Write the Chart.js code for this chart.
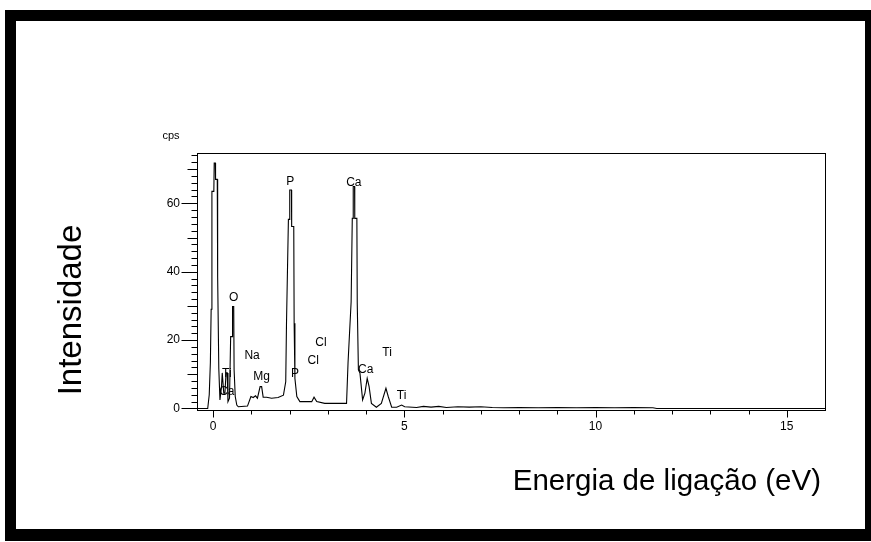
<!DOCTYPE html>
<html><head><meta charset="utf-8">
<script src="https://cdn.jsdelivr.net/npm/chart.js@4.4.0/dist/chart.umd.min.js"></script>
<style>
html,body{margin:0;padding:0;background:#fff;overflow:hidden;}
#frame{position:absolute;left:5px;top:10px;width:866px;height:531px;background:#000;}
#inner{position:absolute;left:16px;top:21px;width:849px;height:508px;background:#fff;}
#wrap{position:absolute;left:0;top:0;width:871px;height:542px;}
</style></head><body>
<div id="frame"></div><div id="inner"></div>
<div id="wrap"><canvas id="c" width="871" height="542"></canvas></div>
<script>
// Spectrum: energy (keV) and intensity (cps)
const energy = [-0.42,-0.14,-0.10,-0.07,-0.05,-0.03,0.02,0.03,0.06,0.065,0.11,0.12,0.15,0.18,
  0.22,0.24,0.28,0.31,0.34,0.37,0.39,0.43,0.46,0.50,0.51,0.54,0.55,0.58,0.62,0.66,
  0.90,0.99,1.05,1.11,1.16,1.23,1.27,1.31,1.40,1.53,1.70,1.84,1.90,1.92,1.97,2.00,2.005,2.05,2.055,2.11,2.12,2.14,2.19,2.27,
  2.58,2.64,2.71,2.92,3.49,3.53,3.61,3.64,3.66,3.665,3.70,3.705,3.76,3.77,3.80,3.84,3.91,3.97,4.03,4.08,4.14,4.27,4.40,4.52,4.58,4.67,4.80,4.93,5.01,5.32,
  5.5,5.7,5.9,6.1,6.4,6.7,7.0,7.3,7.6,8.0,8.5,9.0,9.5,10.0,10.5,11.0,11.5,11.6,16];
const counts = [0,0,4,13.5,29,63.5,63.5,71.8,71.8,67,67,38.5,11.7,2.5,
  6.3,10.4,4.5,4.5,10.4,10.4,2.0,3.0,21,21,29.8,29.8,11.3,3.5,1.0,0.5,
  0.7,3.5,3.2,3.7,3.0,6.4,6.4,3.3,3.3,3.0,3.2,3.9,7.8,24.9,55.3,55.3,63.9,63.9,53.2,53.2,24.9,8.8,3.5,2.0,
  2.0,3.3,2.0,1.5,1.5,13.6,31.2,55.6,55.6,64.9,64.9,55.6,55.6,30.8,11.3,10.4,2.5,4.5,8.8,6.4,1.5,0.35,1.5,5.9,3.5,0.35,0.35,1.0,0.5,0.3,
  0.6,0.4,0.6,0.3,0.5,0.4,0.5,0.3,0.2,0.3,0.2,0.3,0.2,0.3,0.2,0.3,0.2,0,0];
const yTickLabels = [0,20,40,60];
const xTickLabels = [0,5,10,15];
// Element labels on the peaks
const peakNames = ["P","Ca","O","Na","Mg","Cl","Cl","P","Ca","Ti","Ti","Ti","Ca"];
const peakE =     [2.02,3.68,0.54,1.02,1.27,2.82,2.62,2.14,3.99,4.55,4.93,0.36,0.36];
const peakY =     [66.2,66.1,32.4,15.3,9.2,19.3,13.9,10.1,11.4,16.4,3.6,10.1,5.0];

const FONT = "'Liberation Sans', Arial, sans-serif";

const decor = {
  id: 'decor',
  afterDraw(chart) {
    const ctx = chart.ctx, a = chart.chartArea;
    const xs = chart.scales.x, ys = chart.scales.y;
    ctx.save();
    ctx.strokeStyle = '#000'; ctx.lineWidth = 1;
    const L = Math.round(a.left) + 0.5, T = Math.round(a.top) + 0.5;
    const R = Math.round(a.right) + 0.5, B = Math.round(a.bottom) + 0.5;
    ctx.strokeRect(L, T, R - L, B - T);
    ctx.beginPath();
    for (let v = 0; v <= 74; v += 2) {
      const py = Math.round(ys.getPixelForValue(v)) + 0.5;
      const len = v % 20 === 0 ? 16 : (v % 10 === 0 ? 10 : 6);
      ctx.moveTo(L - len, py); ctx.lineTo(L, py);
    }
    for (let v = 0; v <= 15; v += 1) {
      const px = Math.round(xs.getPixelForValue(v)) + 0.5;
      const len = v % 5 === 0 ? 7 : 4;
      ctx.moveTo(px, B); ctx.lineTo(px, B + len);
    }
    ctx.stroke();
    ctx.fillStyle = '#000';
    ctx.font = '12px ' + FONT;
    ctx.textAlign = 'center'; ctx.textBaseline = 'middle';
    for (let i = 0; i < peakNames.length; i++) {
      ctx.fillText(peakNames[i], xs.getPixelForValue(peakE[i]), ys.getPixelForValue(peakY[i]));
    }
    ctx.font = '11px ' + FONT;
    ctx.fillText('cps', 171, 136);
    ctx.font = '29.5px ' + FONT;
    ctx.textAlign = 'right';
    ctx.fillText('Energia de ligação (eV)', 821, 482);
    ctx.translate(72, 310);
    ctx.rotate(-Math.PI / 2);
    ctx.textAlign = 'center';
    ctx.font = '33px ' + FONT;
    ctx.fillText('Intensidade', 0, 0);
    ctx.restore();
  }
};

new Chart(document.getElementById('c'), {
  type: 'line',
  data: {
    datasets: [{
      data: energy.map((e, i) => ({x: e, y: counts[i]})),
      borderColor: '#000', borderWidth: 1.1, pointRadius: 0, tension: 0, fill: false
    }]
  },
  options: {
    responsive: false, animation: false,
    layout: {padding: {left: 0, top: 152.7, right: 46, bottom: 0}},
    plugins: {legend: {display: false}, tooltip: {enabled: false}},
    scales: {
      x: {
        type: 'linear', min: -0.42, max: 16,
        afterBuildTicks: s => { s.ticks = xTickLabels.map(v => ({value: v})); },
        afterFit: s => { s.height = 132.5; },
        grid: {display: false, drawTicks: false}, border: {display: false},
        ticks: {padding: 10, color: '#000', font: {family: FONT, size: 12}, maxRotation: 0}
      },
      y: {
        type: 'linear', min: -0.3, max: 74.8,
        afterBuildTicks: s => { s.ticks = yTickLabels.map(v => ({value: v})); },
        afterFit: s => { s.width = 197; },
        grid: {display: false, drawTicks: false}, border: {display: false},
        ticks: {padding: 17, color: '#000', font: {family: FONT, size: 12}}
      }
    }
  },
  plugins: [decor]
});
</script>
</body></html>
